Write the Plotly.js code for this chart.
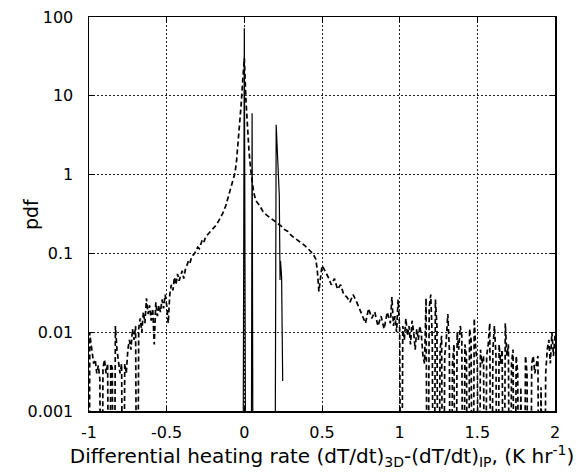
<!DOCTYPE html>
<html>
<head>
<meta charset="utf-8">
<script src="https://cdn.plot.ly/plotly-3.0.1.min.js"></script>
<style>html,body{margin:0;padding:0;background:#fff;}#chart{width:587px;height:475px;}</style>
</head>
<body>
<div id="chart"></div>
<script>
// Dashed series (pdf), zeros are empty bins
const dashX = [
 -1.00,-0.995,-0.99,-0.98,-0.97,-0.96,-0.95,-0.94,-0.93,-0.92,-0.91,-0.90,-0.89,-0.88,-0.87,-0.86,-0.85,-0.84,-0.83,-0.82,-0.81,-0.80,
 -0.79,-0.78,-0.77,-0.76,-0.75,-0.74,-0.73,-0.72,-0.71,-0.70,-0.69,-0.68,-0.67,-0.66,-0.65,-0.64,-0.63,-0.62,-0.61,-0.60,
 -0.59,-0.58,-0.57,-0.56,-0.55,-0.54,-0.53,-0.52,-0.51,-0.50,-0.49,-0.48,-0.47,-0.46,-0.45,-0.44,-0.43,-0.42,-0.41,-0.40,
 -0.39,-0.38,-0.37,-0.36,-0.35,-0.34,-0.33,-0.32,-0.31,-0.30,-0.29,-0.28,-0.27,-0.26,-0.25,-0.24,-0.22,-0.20,-0.18,-0.16,
 -0.14,-0.12,-0.10,-0.08,-0.06,-0.05,-0.04,-0.03,-0.02,-0.01,0.00,0.01,0.02,0.03,0.04,0.05,0.06,0.07,0.08,0.10,
 0.12,0.14,0.16,0.18,0.20,0.22,0.24,0.26,0.28,0.30,0.32,0.34,0.36,0.38,0.40,0.42,0.44,0.46,0.47,0.48,
 0.49,0.50,0.51,0.52,0.54,0.56,0.58,0.60,0.62,0.64,0.66,0.68,0.70,0.72,0.74,0.76,0.78,0.80,0.82,0.84,
 0.86,0.88,0.90,0.92,0.94,0.95,0.96,0.97,0.98,0.99,
 1.00,1.01,1.02,1.03,1.04,1.05,1.06,1.07,1.08,1.09,1.10,1.11,1.12,1.13,1.14,1.15,1.16,1.17,1.18,1.19,
 1.20,1.21,1.22,1.23,1.24,1.25,1.26,1.27,1.28,1.29,1.30,1.31,1.32,1.33,1.34,1.35,1.36,1.37,1.38,1.39,
 1.40,1.41,1.42,1.43,1.44,1.45,1.46,1.47,1.48,1.49,1.50,1.51,1.52,1.53,1.54,1.55,1.56,1.57,1.58,1.59,
 1.60,1.61,1.62,1.63,1.64,1.65,1.66,1.67,1.68,1.69,1.70,1.71,1.72,1.73,1.74,1.75,1.76,1.77,1.78,1.79,
 1.80,1.81,1.82,1.83,1.84,1.85,1.86,1.87,1.88,1.89,1.90,1.91,1.92,1.93,1.94,1.95,1.96,1.97,1.98,1.99,2.00
];
const dashY = [
 0,0.0099,0.008,0.006,0.004,0.0045,0.003,0.0038,0.0025,0,0.0035,0.0045,0.003,0.004,0,0.004,0.0035,0,0.012,0.006,0.0045,0.003,
 0.004,0,0.004,0.003,0.006,0.008,0.006,0.011,0.008,0.012,0,0.011,0.015,0.01,0.018,0.013,0.027,0.017,0.022,0.014,
 0.02,0.007,0.024,0.016,0.022,0.018,0.026,0.02,0.03,0.022,0.013,0.03,0.04,0.034,0.05,0.04,0.055,0.045,0.052,0.06,
 0.048,0.062,0.07,0.08,0.075,0.09,0.095,0.1,0.11,0.12,0.115,0.13,0.15,0.14,0.16,0.17,0.19,0.21,0.23,0.27,
 0.32,0.4,0.55,0.75,1.05,1.5,2.5,4,8,16,30,9,4,2,1.2,0.8,0.6,0.5,0.45,0.4,
 0.34,0.31,0.29,0.27,0.25,0.24,0.22,0.2,0.19,0.17,0.16,0.15,0.14,0.13,0.12,0.11,0.1,0.085,0.06,0.033,
 0.05,0.07,0.065,0.06,0.05,0.04,0.048,0.035,0.04,0.03,0.028,0.024,0.03,0.025,0.02,0.016,0.013,0.02,0.015,0.018,
 0.012,0.016,0.011,0.018,0.013,0.028,0.012,0.016,0.01,0.026,
 0.011,0,0.012,0.008,0.015,0.009,0.012,0.007,0.014,0.01,0.006,0.011,0.008,0.012,0.009,0.005,0.004,0.027,0,0.02,
 0.03,0.008,0,0.026,0.012,0,0.006,0.009,0,0.005,0.008,0.017,0.006,0,0.004,0.007,0,0.01,0.006,0.012,
 0.009,0,0.007,0.005,0,0.011,0.008,0,0.015,0.006,0.004,0,0.006,0.004,0.005,0,0.005,0.007,0.013,0,
 0.006,0.012,0.005,0,0.007,0.004,0.006,0,0.013,0.005,0.007,0,0.004,0.006,0,0.005,0.003,0,0.002,0,
 0,0.005,0.003,0,0,0.004,0.005,0.003,0.004,0.005,0,0.002,0,0,0.003,0.006,0.008,0.004,0.01,0.005,0.009
];
// Solid series
const solidX = [-0.02,-0.011,0.00,0.011,0.043,0.05,0.058,0.195,0.205,0.225,0.230,0.233,0.240,0.247];
const solidY = [0,0,72,0,0,6,0,0,4.3,0.55,0.046,0.08,0.05,0.0024];

const xTicks = [-1,-0.5,0,0.5,1,1.5,2];
const xTickText = ['-1','-0.5','0','0.5','1','1.5','2'];
const yTicks = [0.001,0.01,0.1,1,10,100];
const yTickText = ['0.001','0.01','0.1','1','10','100'];

const FLOOR = 1e-6; // empty bins drawn down to the floor of the log axis
const toLog = a => a.map(v => v > 0 ? v : FLOOR);

const traces = [
  {x: dashX, y: toLog(dashY), mode: 'lines', type: 'scatter',
   line: {color: '#000', width: 1.7, dash: '5px,3px'}, showlegend: false, hoverinfo: 'skip'},
  {x: solidX, y: toLog(solidY), mode: 'lines', type: 'scatter',
   line: {color: '#000', width: 1.2}, showlegend: false, hoverinfo: 'skip'}
];

const font = {family: '"DejaVu Sans", "Liberation Sans", Arial, sans-serif', size: 16, color: '#000'};
const layout = {
  width: 587, height: 475,
  margin: {l: 89, r: 32, t: 17, b: 64},
  paper_bgcolor: '#fff', plot_bgcolor: '#fff',
  font: font,
  showlegend: false,
  xaxis: {
    range: [-1, 2], tickvals: xTicks, ticktext: xTickText,
    ticks: 'inside', ticklen: 5, tickcolor: '#000', tickwidth: 1,
    showline: true, linecolor: '#000', linewidth: 1.5, mirror: 'ticks',
    showgrid: true, gridcolor: '#222', gridwidth: 1, griddash: '2px,2px',
    zeroline: false, tickfont: {size: 16}, ticklabelstandoff: 6,
    title: {text: 'Differential heating rate (dT/dt)<sub>3D</sub>-(dT/dt)<sub>IP</sub>, (K hr<sup>-1</sup>)',
            font: {size: 20}, standoff: 0}
  },
  yaxis: {
    type: 'log', range: [-3, 2], tickvals: yTicks, ticktext: yTickText,
    ticks: 'inside', ticklen: 5, tickcolor: '#000', tickwidth: 1,
    showline: true, linecolor: '#000', linewidth: 1.5, mirror: 'ticks',
    showgrid: true, gridcolor: '#222', gridwidth: 1, griddash: '2px,2px',
    zeroline: false, tickfont: {size: 16}, ticklabelstandoff: 11
  },
  annotations: [{
    text: 'pdf', textangle: -90, showarrow: false,
    xref: 'paper', yref: 'paper', x: -(89 - 31) / 466, y: (411 - 214) / 394,
    xanchor: 'center', yanchor: 'middle', font: {size: 19}
  }]
};

Plotly.newPlot('chart', traces, layout, {staticPlot: true, displayModeBar: false});
</script>
</body>
</html>
